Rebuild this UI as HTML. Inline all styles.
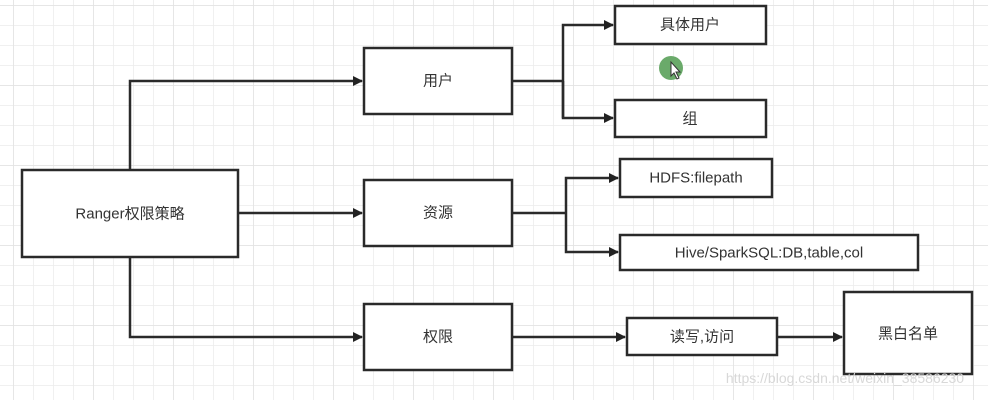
<!DOCTYPE html>
<html><head><meta charset="utf-8"><style>
body{margin:0;width:988px;height:400px;overflow:hidden;background:#fff}
svg text{font-family:"Liberation Sans","Noto Sans CJK SC",sans-serif;font-size:15px;fill:#333;text-anchor:middle;dominant-baseline:central}
</style></head><body>
<svg width="988" height="400" xmlns="http://www.w3.org/2000/svg">
<defs>
<pattern id="g" x="13" y="5" width="20" height="20" patternUnits="userSpaceOnUse">
<path d="M0 0H20M0 0V20" stroke="#ececec" stroke-width="1.5" fill="none"/>
</pattern>
<pattern id="G" x="13" y="5" width="80" height="80" patternUnits="userSpaceOnUse">
<path d="M0 0H80M0 0V80" stroke="#e2e2e2" stroke-width="1.5" fill="none"/>
</pattern>
<marker id="a" markerWidth="10" markerHeight="10" refX="9" refY="5" orient="auto" markerUnits="userSpaceOnUse" viewBox="0 0 10 10">
<path d="M0 0L10 5L0 10Z" fill="#222"/>
</marker>
</defs>
<rect width="988" height="400" fill="url(#g)"/>
<rect width="988" height="400" fill="url(#G)"/>
<g stroke="#2a2a2a" stroke-width="2.5" fill="none">
<path d="M130 170V81H362" marker-end="url(#a)" stroke-width="2.5"/>
<path d="M238 213H362" marker-end="url(#a)"/>
<path d="M130 257V337H362" marker-end="url(#a)"/>
<path d="M512 81H563"/>
<path d="M563 118V25H613" marker-end="url(#a)"/>
<path d="M563 81V118H613" marker-end="url(#a)"/>
<path d="M512 213H566"/>
<path d="M566 213V178H618" marker-end="url(#a)"/>
<path d="M566 213V252H618" marker-end="url(#a)"/>
<path d="M512 337H625" marker-end="url(#a)"/>
<path d="M777 337H842" marker-end="url(#a)"/>
</g>
<g stroke="#2a2a2a" stroke-width="2.5" fill="#fff">
<rect x="22" y="170" width="216" height="87"/>
<rect x="364" y="48" width="148" height="66"/>
<rect x="364" y="180" width="148" height="66"/>
<rect x="364" y="304" width="148" height="66"/>
<rect x="615" y="6" width="151" height="38"/>
<rect x="615" y="100" width="151" height="37"/>
<rect x="620" y="159" width="152" height="38"/>
<rect x="620" y="235" width="298" height="35"/>
<rect x="627" y="318" width="150" height="37"/>
<rect x="844" y="292" width="128" height="82"/>
</g>
<text x="130" y="214">Ranger权限策略</text>
<text x="438" y="81">用户</text>
<text x="438" y="213">资源</text>
<text x="438" y="337">权限</text>
<text x="690" y="25">具体用户</text>
<text x="690" y="119">组</text>
<text x="696" y="178">HDFS:filepath</text>
<text x="769" y="253">Hive/SparkSQL:DB,table,col</text>
<text x="702" y="337">读写,访问</text>
<text x="908" y="334">黑白名单</text>
<circle cx="671" cy="68" r="12" fill="#6aaa6a"/>
<path d="M671 62V76L674 73L677 79L679 78L676 72L680 72Z" fill="#fff" stroke="#333" stroke-width="1"/>
<text x="845" y="378" style="font-size:14px;fill:#d8d8d8">https://blog.csdn.net/weixin_38586230</text>
</svg>
</body></html>
